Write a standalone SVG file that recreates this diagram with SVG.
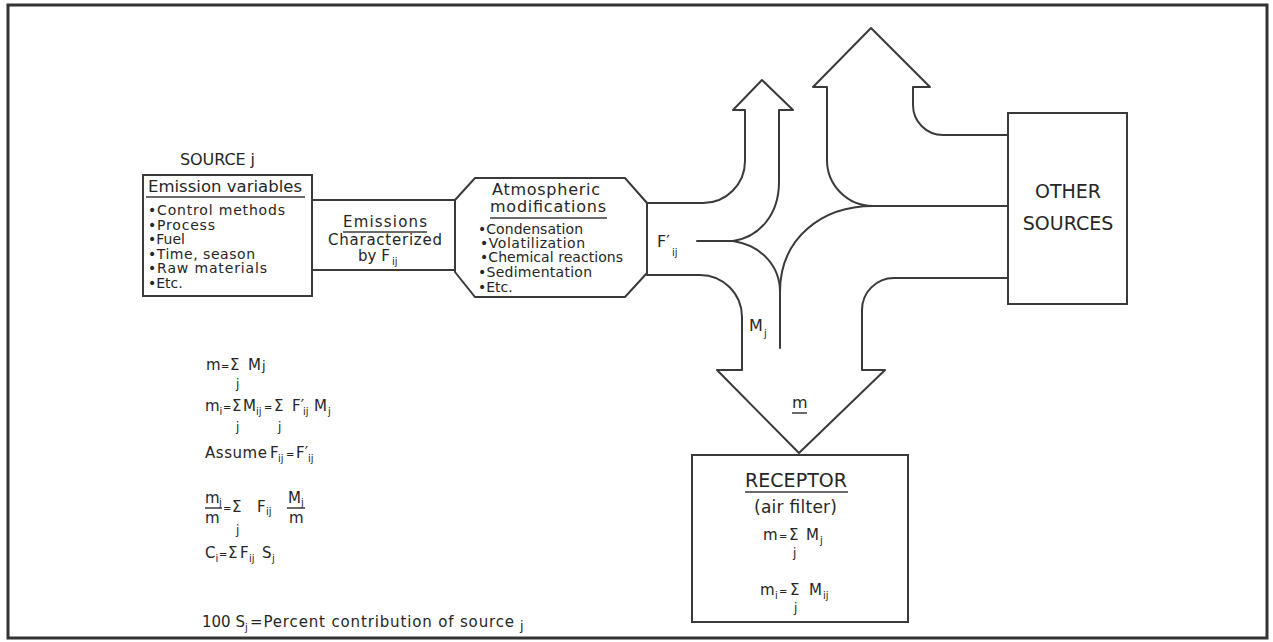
<svg xmlns="http://www.w3.org/2000/svg" width="1273" height="642" viewBox="0 0 1273 642">
  <style>
    .t { font-family: "DejaVu Sans", "Liberation Sans", sans-serif; fill: #262626; font-size: 15px; }
    .s { font-size: 14px; }
    .m { font-size: 16px; }
    .b { font-size: 19px; }
    .sub { font-size: 10px; }
    .eq { font-size: 10px; }
    .lj { font-size: 12px; }
    .c { text-anchor: middle; }
    .ln { fill: none; stroke: #3a3a3a; stroke-width: 2; stroke-linejoin: round; stroke-linecap: round; }
    .box { fill: #ffffff; stroke: #3a3a3a; stroke-width: 2; }
    .ul { stroke: #3a3a3a; stroke-width: 1.5; }
  </style>

  <rect width="1273" height="642" fill="#ffffff"/>
  <!-- outer frame -->
  <rect x="8" y="5" width="1259" height="633" fill="none" stroke="#333333" stroke-width="3"/>

  <!-- flow channels between the modification stage, other sources and the receptor -->
  <g id="connectors">
    <!-- branch leaving upward -->
    <path class="ln" d="M647,203 H703 A42,42 0 0 0 745,161 V110 H733 L762,80 L793,110 H779 V182 C779,214 760,237 733,241"/>
    <!-- F'ij stub -->
    <path class="ln" d="M697,241 H733"/>
    <!-- lower side of the cusp and the Mj stem -->
    <path class="ln" d="M733,241 C760,245 780,265 780,292 V348"/>
    <!-- curve from the stem towards other sources -->
    <path class="ln" d="M780,292 C780,238 822,206 873,206 H1008"/>
    <!-- large arrow leaving upward -->
    <path class="ln" d="M873,206 A46,46 0 0 1 827,160 V87 H813 L871,28 L930,87 H913 V105 A30,30 0 0 0 943,135 H1008"/>
    <!-- large arrow into the receptor -->
    <path class="ln" d="M647,275 H700 A42,42 0 0 1 742,317 V370 H717 L799,453 L885,370 H862 V310 A32,32 0 0 1 894,278 H1008"/>
  </g>

  <!-- source j -->
  <g id="source">
    <text class="t m" x="180" y="165" textLength="75">SOURCE j</text>
    <rect class="box" x="143" y="175" width="169" height="121"/>
    <text class="t" x="148" y="192" style="font-size:16.5px" textLength="154">Emission variables</text>
    <line class="ul" x1="146" y1="197" x2="305" y2="197"/>
    <text class="t s" x="148" y="215" textLength="137">•Control methods</text>
    <text class="t s" x="148" y="229.5" textLength="67">•Process</text>
    <text class="t s" x="148" y="244">•Fuel</text>
    <text class="t s" x="148" y="258.5" textLength="107">•Time, season</text>
    <text class="t s" x="148" y="273" textLength="119">•Raw materials</text>
    <text class="t s" x="148" y="287.5">•Etc.</text>
  </g>

  <!-- emissions -->
  <g id="emissions">
    <rect class="box" x="312" y="200" width="143" height="70"/>
    <text class="t" x="343" y="227" textLength="84">Emissions</text>
    <line class="ul" x1="343" y1="232" x2="427" y2="232"/>
    <text class="t" x="328" y="245" textLength="114">Characterized</text>
    <text class="t" x="358" y="261">by F</text>
    <text class="t sub" x="392" y="265">ij</text>
  </g>

  <!-- atmospheric modifications -->
  <g id="atmospheric">
    <path class="box" d="M455,200 L475,178 H625 L647,203 V273 L625,297 H475 L455,272 Z"/>
    <text class="t m" x="492" y="195" textLength="108">Atmospheric</text>
    <text class="t m" x="490" y="212" textLength="116">modifications</text>
    <line class="ul" x1="490" y1="218" x2="607" y2="218"/>
    <text class="t s" x="478" y="234" textLength="105">•Condensation</text>
    <text class="t s" x="480" y="248" textLength="105">•Volatilization</text>
    <text class="t s" x="480" y="262" textLength="143">•Chemical reactions</text>
    <text class="t s" x="478" y="277" textLength="114">•Sedimentation</text>
    <text class="t s" x="478" y="292">•Etc.</text>
  </g>

  <!-- flow labels -->
  <g id="flow-labels">
    <text class="t m" x="657" y="247">F′</text>
    <text class="t sub" x="672" y="256">ij</text>
    <text class="t m" x="749" y="331">M</text>
    <text class="t sub" x="764" y="337">j</text>
    <text class="t m" x="792" y="408">m</text>
    <line class="ul" x1="792" y1="413" x2="807" y2="413"/>
  </g>

  <!-- other sources -->
  <g id="other-sources">
    <rect class="box" x="1008" y="113" width="119" height="191"/>
    <text class="t b c" x="1068" y="198">OTHER</text>
    <text class="t b c" x="1068" y="230">SOURCES</text>
  </g>

  <!-- receptor -->
  <g id="receptor">
    <rect class="box" x="692" y="455" width="216" height="167"/>
    <text class="t b" x="745" y="487" textLength="102">RECEPTOR</text>
    <line class="ul" x1="745" y1="492" x2="848" y2="492"/>
    <text class="t" x="754" y="513" style="font-size:17px" textLength="83">(air filter)</text>
    <text class="t" x="763" y="540">m</text>
    <text class="t eq" x="779" y="540">=</text>
    <text class="t" x="789" y="540">Σ</text>
    <text class="t" x="806" y="540">M</text>
    <text class="t sub" x="820" y="544">j</text>
    <text class="t lj" x="793" y="557">j</text>
    <text class="t" x="760" y="595">m</text>
    <text class="t sub" x="775" y="599">i</text>
    <text class="t eq" x="779" y="595">=</text>
    <text class="t" x="790" y="595">Σ</text>
    <text class="t" x="809" y="595">M</text>
    <text class="t sub" x="823" y="599">ij</text>
    <text class="t lj" x="794" y="612">j</text>
  </g>

  <!-- relations -->
  <g id="equations">
    <text class="t" x="206" y="370">m</text>
    <text class="t eq" x="221" y="370">=</text>
    <text class="t" x="230" y="370">Σ</text>
    <text class="t" x="248" y="370">M</text>
    <text class="t" x="262" y="370" style="font-size:13px">j</text>
    <text class="t lj" x="236" y="388">j</text>

    <text class="t" x="205" y="411">m</text>
    <text class="t sub" x="219.5" y="415">i</text>
    <text class="t eq" x="223" y="411">=</text>
    <text class="t" x="232" y="411">Σ</text>
    <text class="t" x="243" y="411">M</text>
    <text class="t sub" x="256" y="415">ij</text>
    <text class="t eq" x="264" y="411">=</text>
    <text class="t" x="274" y="411">Σ</text>
    <text class="t" x="292" y="411">F′</text>
    <text class="t sub" x="303" y="415">ij</text>
    <text class="t" x="314" y="411">M</text>
    <text class="t sub" x="328" y="415">j</text>
    <text class="t lj" x="236" y="431">j</text>
    <text class="t lj" x="278" y="431">j</text>

    <text class="t" x="205" y="458" textLength="62">Assume</text>
    <text class="t" x="270" y="458">F</text>
    <text class="t sub" x="278" y="462">ij</text>
    <text class="t eq" x="286" y="458">=</text>
    <text class="t" x="296" y="458">F′</text>
    <text class="t sub" x="308" y="462">ij</text>

    <text class="t" x="205" y="503">m</text>
    <text class="t sub" x="219" y="506">j</text>
    <line class="ul" x1="205" y1="508" x2="222" y2="508"/>
    <text class="t" x="205" y="523">m</text>
    <text class="t eq" x="223" y="512">=</text>
    <text class="t" x="232" y="512">Σ</text>
    <text class="t lj" x="236" y="534">j</text>
    <text class="t" x="257" y="512">F</text>
    <text class="t sub" x="266" y="515">ij</text>
    <text class="t" x="288" y="503">M</text>
    <text class="t sub" x="301" y="506">j</text>
    <line class="ul" x1="287" y1="508" x2="305" y2="508"/>
    <text class="t" x="289" y="523">m</text>

    <text class="t" x="205" y="558">C</text>
    <text class="t sub" x="215.5" y="562">i</text>
    <text class="t eq" x="219" y="558">=</text>
    <text class="t" x="228" y="558">Σ</text>
    <text class="t" x="240" y="558">F</text>
    <text class="t sub" x="249" y="562">ij</text>
    <text class="t" x="262" y="558">S</text>
    <text class="t sub" x="272" y="562">j</text>

    <text class="t" x="202" y="627">100 S</text>
    <text class="t sub" x="245" y="631">j</text>
    <text class="t" x="250" y="627" textLength="264">=Percent contribution of source</text>
    <text class="t" x="520" y="630" style="font-size:13px">j</text>
  </g>
</svg>
